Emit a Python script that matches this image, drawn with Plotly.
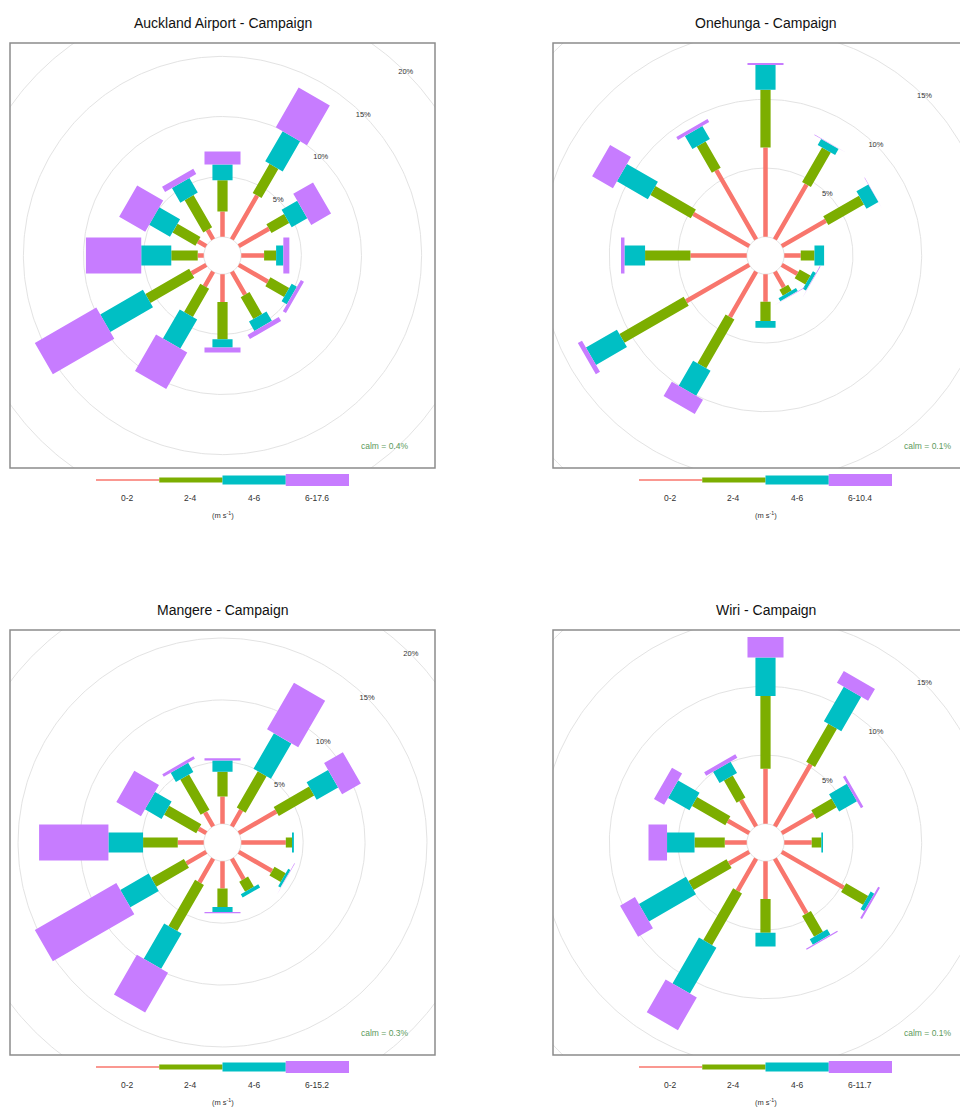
import numpy as np
import plotly.graph_objects as go

# ---------------- data ----------------
directions = [0, 30, 60, 90, 120, 150, 180, 210, 240, 270, 300, 330]
colours = ["#F8766D", "#7CAE00", "#00BFC4", "#C77CFF"]
titles = ["Auckland Airport - Campaign", "Onehunga - Campaign",
          "Mangere - Campaign", "Wiri - Campaign"]
low_bin_labels = ["0-2", "2-4", "4-6"]
top_bin_labels = ["6-17.6", "6-10.4", "6-15.2", "6-11.7"]
calm_pct = [0.4, 0.1, 0.3, 0.1]

# frequency (%) per direction (N, 30, ..., 330) for each speed bin
airport_0_2 = [2.1, 4.2, 2.9, 1.9, 2.8, 2.2, 2.3, 1.4, 1.4, 0.5, 0.8, 0.9]
airport_2_4 = [2.6, 2.8, 1.7, 1.0, 1.8, 2.1, 3.1, 2.7, 4.2, 2.2, 2.2, 3.1]
airport_4_6 = [1.3, 2.9, 1.5, 0.6, 0.5, 0.9, 0.7, 2.8, 4.1, 2.5, 2.0, 1.4]
airport_6_up = [1.1, 3.8, 1.9, 0.5, 0.3, 0.4, 0.4, 3.5, 5.9, 4.6, 2.5, 0.5]

onehunga_0_2 = [6.5, 4.6, 3.7, 1.2, 1.3, 1.3, 2.0, 3.8, 5.3, 4.1, 4.7, 5.8]
onehunga_2_4 = [4.2, 2.9, 3.0, 1.0, 0.9, 0.5, 1.4, 4.1, 5.4, 3.3, 3.4, 2.2]
onehunga_4_6 = [1.8, 0.5, 1.0, 0.7, 0.25, 0.25, 0.5, 2.1, 2.6, 1.5, 2.6, 1.1]
onehunga_6_up = [0.15, 0.05, 0.03, 0.03, 0.05, 0.05, 0.02, 1.2, 0.35, 0.25, 1.75, 0.25]

mangere_0_2 = [2.2, 1.5, 3.5, 3.6, 3.1, 1.9, 2.2, 2.2, 1.85, 2.1, 0.7, 1.3]
mangere_2_4 = [2.0, 3.4, 3.3, 0.5, 1.05, 0.95, 1.5, 4.3, 3.05, 2.8, 3.0, 3.3]
mangere_4_6 = [0.9, 3.3, 2.0, 0.15, 0.2, 0.3, 0.4, 3.3, 2.65, 2.8, 1.55, 0.85]
mangere_6_up = [0.2, 4.35, 1.75, 0.05, 0.05, 0.05, 0.1, 3.7, 7.6, 5.6, 2.3, 0.25]

wiri_0_2 = [4.0, 5.2, 2.7, 2.0, 5.2, 4.6, 2.75, 2.7, 1.7, 1.6, 1.8, 2.2]
wiri_2_4 = [5.3, 3.2, 1.7, 0.7, 1.85, 1.75, 2.45, 4.35, 3.2, 2.2, 2.8, 1.85]
wiri_4_6 = [2.8, 2.9, 1.5, 0.12, 0.3, 0.45, 1.0, 3.85, 3.95, 2.0, 1.8, 0.95]
wiri_6_up = [1.5, 1.0, 0.2, 0.05, 0.15, 0.1, 0.05, 2.75, 1.25, 1.35, 0.85, 0.3]

sites = [
    [airport_0_2, airport_2_4, airport_4_6, airport_6_up],
    [onehunga_0_2, onehunga_2_4, onehunga_4_6, onehunga_6_up],
    [mangere_0_2, mangere_2_4, mangere_4_6, mangere_6_up],
    [wiri_0_2, wiri_2_4, wiri_4_6, wiri_6_up],
]

# ---------------- layout geometry (page pixels) ----------------
FIG_W, FIG_H = 968, 1108
PAGE_W = 968
BODY = 8            # default page margin around the plot div
PANEL = 425
panel_left = [10, 553, 10, 553]
panel_top = [43, 43, 630, 630]
FONT = "Liberation Sans, Arial, sans-serif"
KEY_WIDTHS = [1.5, 5, 9, 12]


def py(px):
    return 1 - (px - BODY) / FIG_H


def pxx(px):
    return (px - BODY) / FIG_W


fig = go.Figure()
shapes = []
annotations = []

for i, bins in enumerate(sites):
    ax = "" if i == 0 else str(i + 1)
    xa, ya = "x" + ax, "y" + ax
    data = np.array(bins, dtype=float)          # (4 bins, 12 dirs)
    cum = np.cumsum(data, axis=0)
    M = cum[-1].max()
    off = 0.1 * M
    R = 1.03 * (M + off)
    ppu = PANEL / (2 * R)
    left, top = panel_left[i], panel_top[i]
    vis_w = min(PANEL, PAGE_W - left)

    # grid circles
    ang = np.linspace(0, 2 * np.pi, 361)
    mymax = 2 * M
    r = off
    while r <= mymax + 1e-9:
        fig.add_trace(go.Scatter(x=r * np.sin(ang), y=r * np.cos(ang), mode="lines",
                                 line=dict(color="#e3e3e3", width=1),
                                 hoverinfo="skip", showlegend=False,
                                 xaxis=xa, yaxis=ya))
        r += 5

    # paddles
    widths = (np.linspace(0.002 ** 0.25, 0.016 ** 0.25, 4) ** 4) * M * 30 / 5
    for b in range(4):
        xs, ys = [], []
        for d, theta in enumerate(directions):
            r1 = (cum[b - 1, d] if b > 0 else 0) + off
            r2 = cum[b, d] + off
            if r2 - r1 <= 0:
                continue
            t = np.deg2rad(theta)
            s, c = np.sin(t), np.cos(t)
            hw = widths[b]
            xs += [r1 * s - hw * c, r1 * s + hw * c, r2 * s + hw * c, r2 * s - hw * c,
                   r1 * s - hw * c, None]
            ys += [r1 * c + hw * s, r1 * c - hw * s, r2 * c - hw * s, r2 * c + hw * s,
                   r1 * c + hw * s, None]
        fig.add_trace(go.Scatter(x=xs, y=ys, mode="lines", fill="toself",
                                 fillcolor=colours[b], line=dict(width=0, color=colours[b]),
                                 hoverinfo="skip", showlegend=False,
                                 xaxis=xa, yaxis=ya))

    # percentage labels
    lx, ly, lt = [], [], []
    k = 1
    while 5 * k + off <= mymax:
        rr = 5 * k + off
        lx.append(rr * np.sin(np.pi / 4))
        ly.append(rr * np.cos(np.pi / 4))
        lt.append(f"{5 * k}%")
        k += 1
    fig.add_trace(go.Scatter(x=lx, y=ly, text=lt, mode="text",
                             textfont=dict(size=7.5, color="#333333", family=FONT),
                             cliponaxis=True, hoverinfo="skip", showlegend=False,
                             xaxis=xa, yaxis=ya))

    # axes
    dom_x = [pxx(left), pxx(left + vis_w)]
    dom_y = [py(top + PANEL), py(top)]
    axkw = dict(visible=False, showgrid=False, zeroline=False, fixedrange=True)
    fig.layout["xaxis" + ax] = dict(domain=dom_x, range=[-R, -R + vis_w / ppu],
                                    anchor=ya, **axkw)
    fig.layout["yaxis" + ax] = dict(domain=dom_y, range=[-R, R], anchor=xa, **axkw)

    # frame
    shapes.append(dict(type="rect", xref="paper", yref="paper",
                       x0=pxx(left), x1=pxx(left + PANEL), y0=py(top + PANEL), y1=py(top),
                       line=dict(color="#8c8c8c", width=1.5), fillcolor="rgba(0,0,0,0)"))

    # title
    annotations.append(dict(x=pxx(left + PANEL / 2), y=py(top - 20), xref="paper", yref="paper",
                            text=titles[i], showarrow=False, xanchor="center", yanchor="middle",
                            font=dict(size=14, color="#111111", family=FONT)))

    # calm text
    annotations.append(dict(x=0.88 * R, y=-0.895 * R, xref=xa, yref=ya,
                            text=f"calm = {calm_pct[i]}%", showarrow=False,
                            xanchor="right", yanchor="middle",
                            font=dict(size=8.5, color="#5c9a5c", family=FONT)))

    # key
    key_left = left + 86
    seg = 63.25
    key_y = top + PANEL + 12
    labels = low_bin_labels + [top_bin_labels[i]]
    for b in range(4):
        shapes.append(dict(type="line", xref="paper", yref="paper",
                           x0=pxx(key_left + b * seg), x1=pxx(key_left + (b + 1) * seg),
                           y0=py(key_y), y1=py(key_y),
                           line=dict(color=colours[b], width=KEY_WIDTHS[b])))
        annotations.append(dict(x=pxx(key_left + (b + 0.5) * seg), y=py(top + PANEL + 30),
                                xref="paper", yref="paper", text=labels[b], showarrow=False,
                                xanchor="center", yanchor="middle",
                                font=dict(size=8.5, color="#333333", family=FONT)))
    annotations.append(dict(x=pxx(left + PANEL / 2), y=py(top + PANEL + 47),
                            xref="paper", yref="paper", text="(m s<sup>-1</sup>)",
                            showarrow=False, xanchor="center", yanchor="middle",
                            font=dict(size=7.5, color="#333333", family=FONT)))

fig.update_layout(width=FIG_W, height=FIG_H, margin=dict(l=0, r=0, t=0, b=0),
                  paper_bgcolor="white", plot_bgcolor="white", showlegend=False,
                  hovermode=False, shapes=shapes, annotations=annotations)

fig.write_html("out.html")
